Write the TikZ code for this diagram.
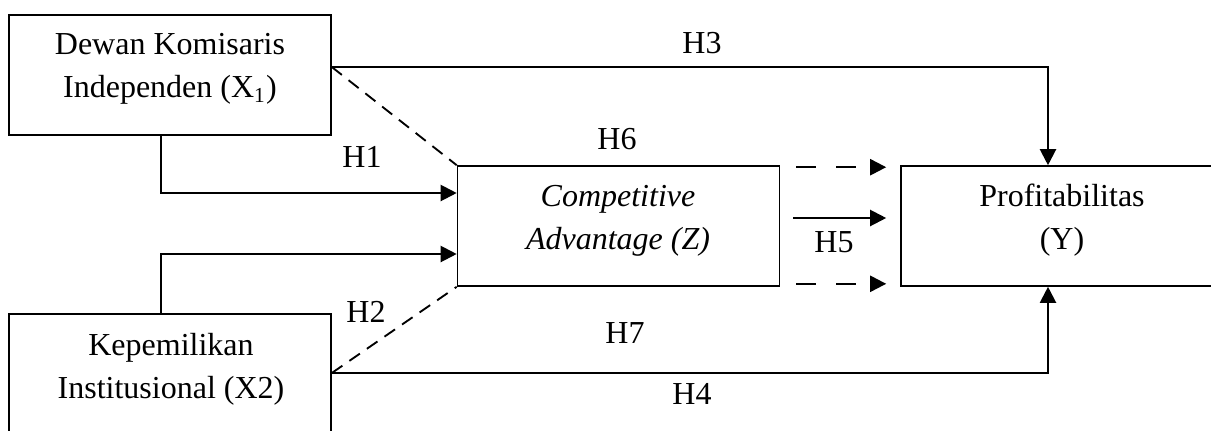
\documentclass[tikz,border=0pt]{standalone}
\usepackage{fontspec}
\setmainfont{Liberation Serif}
\usetikzlibrary{arrows.meta,calc}
\begin{document}
\begin{tikzpicture}[x=0.375pt,y=-0.375pt,
  every node/.style={font=\fontsize{12pt}{16pt}\selectfont},
  boxnode/.style={draw,line width=0.6pt,inner sep=0pt,minimum width=120.75pt,minimum height=45pt},
  txt/.style={align=center,inner sep=0pt},
  arr/.style={line width=0.8pt,-{Triangle[length=6pt,width=6pt]}},
  diag/.style={line width=0.7pt,dash pattern=on 4.8pt off 3.2pt},
  darr/.style={line width=0.85pt,dash pattern=on 7.5pt off 7.5pt,-{Triangle[length=6pt,width=6pt]}}
]
\useasboundingbox (0,0) rectangle (1211,430);
\clip (0,0) rectangle (1211,430);
% boxes
\node[boxnode] (x1) at (170,75) {};
\node[boxnode] (x2) at (170,374) {};
\node[boxnode] (z) at (618.5,226) {};
\node[boxnode] (y) at (1062,226) {};
% box texts
\node[txt] (tx1) at (170,69) {Dewan Komisaris\\Independen (X\textsubscript{1})};
\node[txt] (tx2) at (171,369) {Kepemilikan\\Institusional (X2)};
\node[txt,font=\fontsize{12pt}{16pt}\selectfont\itshape] (tz) at (618,221) {Competitive\\Advantage (Z)};
\node[txt] (ty) at (1062,220) {Profitabilitas\\(Y)};
% connectors
\draw[arr] ($(x1.south)+(-9,0)$) |- ($(z.west)+(0,-33)$);
\draw[arr] ($(x2.north)+(-9,0)$) |- ($(z.west)+(0,28)$);
\draw[arr] ($(x1.east)+(0,-8)$) -| ($(y.north)+(-14,0)$);
\draw[arr] ($(x2.east)+(0,-1)$) -| ($(y.south)+(-14,0)$);
\draw[diag] ($(x1.east)+(0,-8)$) -- (z.north west);
\draw[diag] ($(x2.east)+(0,-1)$) -- (z.south west);
\draw[darr] ($(z.north east)+(16,2)$) -- ($(y.north west)+(-14,2)$);
\draw[arr] ($(z.east)+(13,-8)$) -- ($(y.west)+(-14,-8)$);
\draw[darr] ($(z.south east)+(16,-3)$) -- ($(y.south west)+(-14,-3)$);
% labels
\node[txt] (h3) at (702,43) {H3};
\node[txt] (h6) at (617,139) {H6};
\node[txt] (h1) at (362,157) {H1};
\node[txt] (h2) at (366,312) {H2};
\node[txt] (h5) at (834,242) {H5};
\node[txt] (h7) at (625,333) {H7};
\node[txt] (h4) at (692,394) {H4};
\end{tikzpicture}
\end{document}
